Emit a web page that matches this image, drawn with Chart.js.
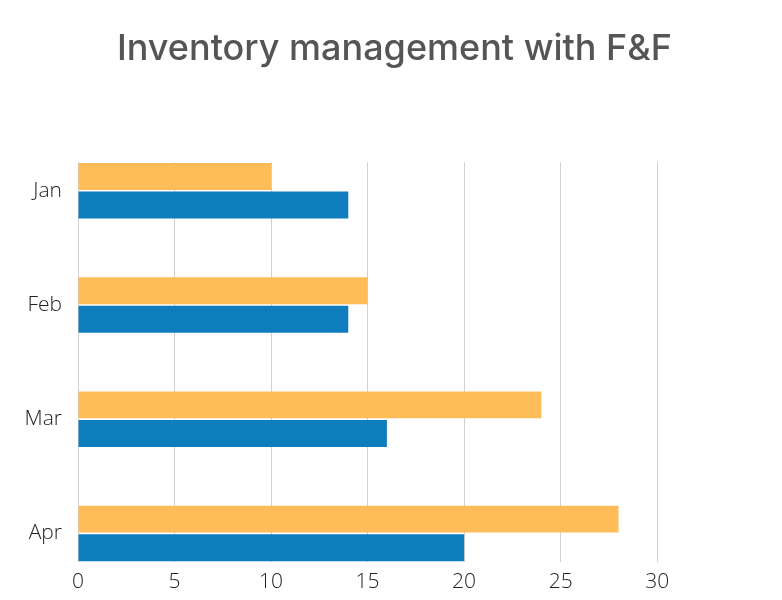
<!DOCTYPE html>
<html>
<head>
<meta charset="utf-8">
<script src="https://cdn.jsdelivr.net/npm/chart.js@4.4.0/dist/chart.umd.min.js"></script>
<style>
  html, body { margin: 0; padding: 0; background: #fff; }
  #wrap { width: 782px; height: 600px; }
</style>
</head>
<body>
<div id="wrap"><canvas id="chart"></canvas></div>
<script>
// --- Data ---
const months = ['Jan', 'Feb', 'Mar', 'Apr'];
const orangeValues = [10, 15, 24, 28];
const blueValues = [14, 14, 16, 20];
const xTicks = [0, 5, 10, 15, 20, 25, 30];

const toPoints = arr => arr.map((v, i) => ({ x: v, y: i }));

const ctx = document.getElementById('chart').getContext('2d');
new Chart(ctx, {
    type: 'bar',
    data: {
        datasets: [
            {
                label: 'Series 1',
                data: toPoints(orangeValues),
                backgroundColor: '#FFBD5A',
                categoryPercentage: 0.5,
                barPercentage: 0.94
            },
            {
                label: 'Series 2',
                data: toPoints(blueValues),
                backgroundColor: '#0E7DBD',
                categoryPercentage: 0.5,
                barPercentage: 0.94
            }
        ]
    },
    options: {
        indexAxis: 'y',
        responsive: true,
        maintainAspectRatio: false,
        animation: false,
        layout: { padding: { left: 16, right: 9, top: 0, bottom: 0 } },
        scales: {
            x: {
                min: 0,
                max: 36,
                afterBuildTicks: scale => { scale.ticks = xTicks.map(v => ({ value: v })); },
                afterFit: scale => { scale.height = 38; },
                grid: { color: '#D0D0D0', drawTicks: false },
                border: { display: false },
                ticks: {
                    padding: 7,
                    color: '#222',
                    font: { family: 'Open Sans', weight: 300, size: 21 }
                }
            },
            y: {
                type: 'linear',
                offset: false,
                min: -0.25,
                max: 3.25,
                reverse: true,
                afterBuildTicks: scale => { scale.ticks = months.map((m, i) => ({ value: i })); },
                afterFit: scale => { scale.width = 62; },
                grid: { display: false, drawTicks: false, offset: false },
                border: { display: false },
                ticks: {
                    padding: 16,
                    color: '#222',
                    font: { family: 'Open Sans', weight: 300, size: 21 },
                    callback: v => months[v]
                }
            }
        },
        plugins: {
            legend: { display: false },
            tooltip: { enabled: false },
            title: {
                display: true,
                text: 'Inventory management with F&F',
                color: '#555',
                font: { family: 'Inter', weight: 500, size: 36, lineHeight: 1.2 },
                padding: { top: 28, bottom: 91 }
            }
        }
    }
});
</script>
</body>
</html>
